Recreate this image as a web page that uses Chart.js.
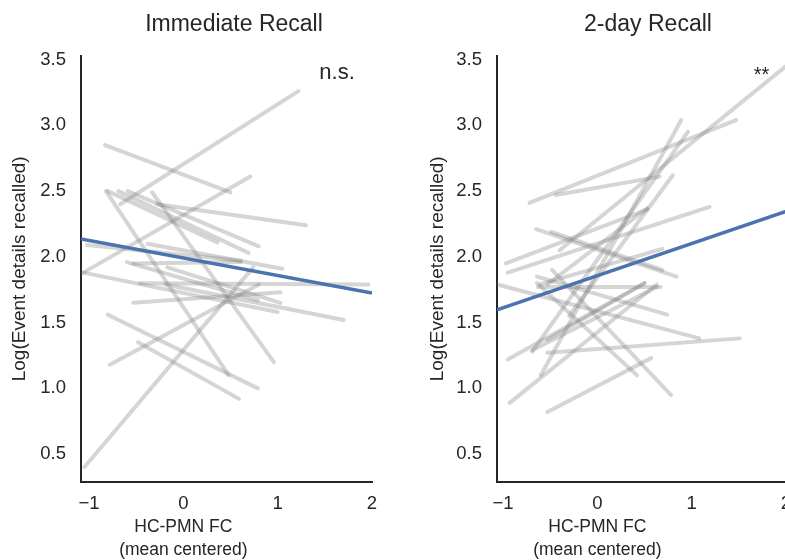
<!DOCTYPE html>
<html>
<head>
<meta charset="utf-8">
<script src="https://cdn.jsdelivr.net/npm/chart.js@4.4.0/dist/chart.umd.min.js"></script>
<style>
html,body{margin:0;padding:0;background:#fff;overflow:hidden;width:785px;height:560px;}
#wrap{position:relative;width:785px;height:560px;overflow:hidden;background:#fff;}
#c1{position:absolute;left:0;top:0;}
#c2{position:absolute;left:400px;top:0;}
</style>
</head>
<body>
<div id="wrap">
<canvas id="c1" width="468" height="560"></canvas>
<canvas id="c2" width="496" height="560"></canvas>
</div>
<script>
// ---- tick values / labels ----
const xTicks = [-1, 0, 1, 2];
const xTickLabels = ['\u22121', '0', '1', '2'];
const yTicks = [0.5, 1.0, 1.5, 2.0, 2.5, 3.0, 3.5];
const yTickLabels = ['0.5', '1.0', '1.5', '2.0', '2.5', '3.0', '3.5'];

const panelTitles = ['Immediate Recall', '2-day Recall'];
const xAxisTitle = ['HC-PMN FC', '(mean centered)'];
const xAxisTitleAnchor = 0;   // x-value the axis label is centred on
const yAxisTitle = 'Log(Event details recalled)';
const sigLabels = ['n.s.', '**'];
const sigX = [1.63, 1.74];
const sigY = [3.35, 3.34];

// ---- Immediate recall: per-subject lines (start / end) ----
const immStartX = [-0.83, -0.67, -1.06, -0.80, -0.69, -0.59, -0.33, -0.28, -0.38, -0.82, -1.05, -0.80, -0.48, -0.78, -0.53, -1.06, -0.53, -0.46, -0.60, -0.17, -0.19, -1.02];
const immStartY = [ 2.85,  2.40,  1.88,  2.50,  2.50,  2.50,  2.49,  2.40,  2.10,  2.50,  0.40,  1.56,  1.35,  1.18,  1.65,  1.88,  1.95,  1.80,  1.96,  1.92,  1.79,  2.09];
const immEndX   = [ 0.50,  1.22,  0.71,  0.36,  0.69,  0.80,  0.96,  1.30,  1.05,  0.48,  0.74,  0.79,  0.59,  0.80,  1.03,  1.00,  0.61,  1.96,  0.79,  1.03,  1.70,  0.61];
const immEndY   = [ 2.49,  3.26,  2.61,  2.11,  2.03,  2.08,  1.20,  2.24,  1.91,  1.10,  1.92,  1.00,  0.92,  1.79,  1.73,  1.58,  1.96,  1.79,  1.67,  1.65,  1.52,  1.97];
const immFitX = [-1.085, 2.0];
const immFitY = [2.136, 1.724];

// ---- 2-day recall: per-subject lines (start / end) ----
const dayStartX = [-0.72, -0.44, -0.40, -0.60, -0.69, -1.06, -0.53, -0.53, -0.93, -0.95, -0.64, -0.48, -0.65, -0.49, -0.97, -0.95, -0.61, -0.63, -0.64, -0.69, -0.53, -0.30, -0.53];
const dayStartY = [ 2.41,  2.47,  2.05,  1.10,  1.28,  1.79,  1.27,  0.82,  0.89,  1.22,  1.80,  1.90,  2.21,  2.19,  1.95,  1.88,  1.79,  1.77,  1.85,  1.29,  1.79,  1.55,  1.37];
const dayEndX   = [ 1.47,  0.66,  2.00,  0.89,  0.96,  1.08,  1.51,  0.57,  0.63,  0.50,  0.42,  0.78,  0.84,  0.69,  0.53,  1.19,  0.69,  0.67,  0.74,  0.63,  0.53,  0.80,  0.50];
const dayEndY   = [ 3.04,  2.61,  3.45,  3.04,  2.95,  1.38,  1.38,  1.23,  1.79,  1.80,  1.10,  0.95,  1.85,  1.90,  2.36,  2.38,  2.06,  1.77,  1.56,  1.77,  2.37,  2.62,  1.80];
const dayFitX = [-1.064, 2.0];
const dayFitY = [1.597, 2.345];

// ---- styling ----
const TXT = '#262626';
const FONT = "'Liberation Sans', Arial, sans-serif";
const GRAY = 'rgba(128,128,128,0.33)';
const BLUE = '#4c72b0';

function buildDatasets(sx, sy, ex, ey, fx, fy) {
  const ds = [{
    data: fx.map((x, i) => ({x: x, y: fy[i]})),
    borderColor: BLUE, borderWidth: 3.5, showLine: true, pointRadius: 0, order: 0
  }];
  sx.forEach((x, i) => {
    ds.push({
      data: [{x: x, y: sy[i]}, {x: ex[i], y: ey[i]}],
      borderColor: GRAY, borderWidth: 4, showLine: true, pointRadius: 0,
      borderCapStyle: 'round', order: 1
    });
  });
  return ds;
}

// significance marker + x-axis label (centred on a data value)
const textPlugin = {
  id: 'panelText',
  afterDraw(chart, args, opts) {
    const ctx = chart.ctx;
    const xs = chart.scales.x, ys = chart.scales.y;
    ctx.save();
    ctx.fillStyle = TXT;
    ctx.textAlign = 'center';
    ctx.textBaseline = 'alphabetic';
    ctx.font = opts.sigFont;
    ctx.fillText(opts.sigText, xs.getPixelForValue(opts.sigX), ys.getPixelForValue(opts.sigY));
    ctx.font = opts.xTitleFont;
    ctx.textBaseline = 'middle';
    const cx = xs.getPixelForValue(opts.xTitleAnchor);
    opts.xTitle.forEach((line, i) => {
      ctx.fillText(line, cx, chart.chartArea.bottom + 45 + i * opts.xTitleLine);
    });
    ctx.restore();
  }
};

function makeChart(id, title, datasets, xMin, yAxisWidth, yTitlePad, rightPad, idx) {
  return new Chart(document.getElementById(id), {
    type: 'scatter',
    data: {datasets: datasets},
    plugins: [textPlugin],
    options: {
      responsive: false,
      animation: false,
      layout: {padding: 0},
      plugins: {
        legend: {display: false},
        tooltip: {enabled: false},
        title: {
          display: true, text: title, color: TXT,
          font: {family: FONT, size: 23, weight: 'normal', lineHeight: 1.2},
          padding: {top: 11, bottom: 17}
        },
        panelText: {
          sigText: sigLabels[idx], sigX: sigX[idx], sigY: sigY[idx],
          sigFont: (idx === 0 ? '22px ' : '20px ') + FONT,
          xTitle: xAxisTitle, xTitleAnchor: xAxisTitleAnchor,
          xTitleFont: '17.5px ' + FONT, xTitleLine: 23
        }
      },
      scales: {
        x: {
          type: 'linear', min: xMin, max: 2.0,
          afterBuildTicks: a => { a.ticks = xTicks.map(v => ({value: v})); },
          afterFit: s => { s.height = 78; },
          grid: {display: false, drawTicks: false},
          border: {display: true, color: TXT, width: 2},
          ticks: {
            callback: (v, i) => xTickLabels[i],
            color: TXT, padding: 11, maxRotation: 0, autoSkip: false,
            font: {family: FONT, size: 18.5}
          },
          title: {display: false}
        },
        y: {
          type: 'linear', min: 0.288, max: 3.53, position: 'left',
          afterBuildTicks: a => { a.ticks = yTicks.map(v => ({value: v})); },
          afterFit: s => { s.width = yAxisWidth; },
          grid: {display: false, drawTicks: false},
          border: {display: true, color: TXT, width: 2},
          ticks: {
            callback: (v, i) => yTickLabels[i],
            color: TXT, padding: 15, autoSkip: false,
            font: {family: FONT, size: 18.5}
          },
          title: {
            display: true, text: yAxisTitle, color: TXT,
            font: {family: FONT, size: 19, lineHeight: 1.2},
            padding: {top: yTitlePad, bottom: 0}
          }
        },
        spacer: {
          type: 'linear', position: 'right', display: true,
          afterFit: s => { s.width = rightPad; },
          grid: {display: false, drawTicks: false},
          border: {display: false},
          ticks: {display: false}
        }
      }
    }
  });
}

makeChart('c1', panelTitles[0],
  buildDatasets(immStartX, immStartY, immEndX, immEndY, immFitX, immFitY),
  -1.085, 81, 8, 96, 0);
makeChart('c2', panelTitles[1],
  buildDatasets(dayStartX, dayStartY, dayEndX, dayEndY, dayFitX, dayFitY),
  -1.064, 97, 26, 110, 1);
</script>
</body>
</html>
